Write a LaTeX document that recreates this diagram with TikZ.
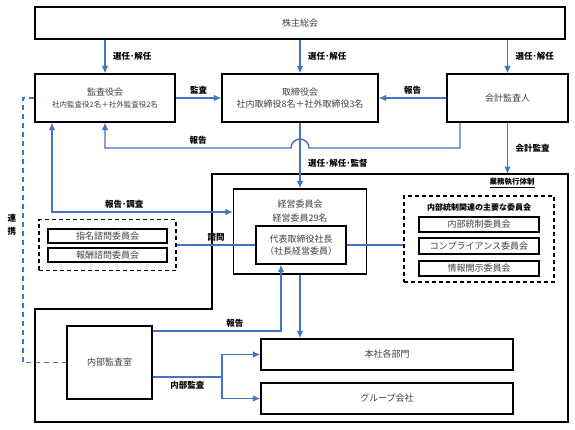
\documentclass[tikz,border=0pt]{standalone}
\usepackage{fontspec}
\setmainfont{Noto Sans CJK JP}
\usetikzlibrary{arrows.meta}
\definecolor{linkblue}{RGB}{68,114,196}
\definecolor{boxtext}{RGB}{64,64,64}

\begin{document}
\begin{tikzpicture}[x=1pt,y=-1pt,>={Latex[length=7.5pt,width=6.5pt]},
  org box/.style={draw,line width=1.2pt,inner sep=0pt,align=center,text=boxtext,font=\fontsize{9}{12}\selectfont},
  group box/.style={draw,line width=1.2pt,dash pattern=on 4pt off 3pt},
  blue line/.style={draw=linkblue,line width=1.4pt},
  tag/.style={font=\fontsize{8.5}{10}\selectfont\bfseries}]

  \useasboundingbox[fill=white] (0,0) rectangle (575,429);

  % governance level
  \node[org box,minimum width=530,minimum height=32] (gm) at (300,23) {株主総会};
  \node[org box,minimum width=140,minimum height=48] (kansa) at (105,98)
    {監査役会\\{\fontsize{7.5}{9}\selectfont 社内監査役2名＋社外監査役2名}};
  \node[org box,minimum width=156,minimum height=48] (board) at (300,98)
    {取締役会\\社内取締役8名＋社外取締役3名};
  \node[org box,minimum width=121,minimum height=48] (auditor) at (507.5,98) {会計監査人};

  % execution area
  \coordinate (ex nw) at (212,174);
  \coordinate (hop) at (300,148);
  \coordinate (link) at (23,0);
  \coordinate (split) at (222,377);
  \draw[line width=2pt] (ex nw) -- (568,174) -- (568,422) -- (35,422) -- (35,309) -- (212,309) -- cycle;
  \node[font=\fontsize{7.5}{9}\selectfont\bfseries] (exec) at (512,183) {\underline{業務執行体制}};

  \node[org box,minimum width=133,minimum height=85] (keiei) at (300,231.5) {};
  \node[text=boxtext,align=center,font=\fontsize{9}{14}\selectfont] (keieit) at (300,211) {経営委員会\\経営委員29名};
  \node[org box,minimum width=90,minimum height=38] (ceo) at (301,245) {代表取締役社長\\（社長経営委員）};

  \node[group box,minimum width=137,minimum height=51] (advisory) at (107.5,245) {};
  \node[org box,minimum width=119,minimum height=14] (nom) at (107.5,236) {指名諮問委員会};
  \node[org box,minimum width=119,minimum height=14] (rem) at (107.5,255) {報酬諮問委員会};

  \node[group box,minimum width=150,minimum height=86] (ic) at (479,239) {};
  \node[font=\fontsize{8}{10}\selectfont\bfseries] (ict) at (479,207) {内部統制関連の主要な委員会};
  \node[org box,minimum width=120,minimum height=15] (ic1) at (479,224.5) {内部統制委員会};
  \node[org box,minimum width=120,minimum height=16] (ic2) at (479,246) {コンプライアンス委員会};
  \node[org box,minimum width=120,minimum height=15] (ic3) at (479,268.5) {情報開示委員会};

  \node[org box,minimum width=85,minimum height=73] (ia) at (109.5,362.5) {内部監査室};
  \node[org box,minimum width=252,minimum height=31] (hq) at (387,354.5) {本社各部門};
  \node[org box,minimum width=252,minimum height=31] (grp) at (387,398.5) {グループ会社};

  % connectors
  \draw[blue line,->] (gm.south -| kansa) -- node[tag,right,xshift=4] {選任･解任} (kansa);
  \draw[blue line,->] (gm.south -| board) -- node[tag,right,xshift=4] {選任･解任} (board);
  \draw[blue line,->] (gm.south -| auditor) -- node[tag,right,xshift=4] {選任･解任} (auditor);
  \draw[blue line,->] (kansa) -- node[tag,above] {監査} (board);
  \draw[blue line,->] (auditor) -- node[tag,above] {報告} (board);
  \draw[blue line,->] ([xshift=-47.5]auditor.south) |- ([xshift=9]hop) arc (0:-180:9)
    -- node[tag,above] {報告} (hop -| kansa) -- (kansa.south);
  \draw[blue line,->] (board) -- node[tag,right,pos=0.62,xshift=4] {選任･解任･監督} (keiei);
  \draw[blue line,->] (auditor.south) -- node[tag,right,xshift=4] {会計監査} (auditor.south |- ex nw);
  \draw[blue line,<->] ([xshift=-53]kansa.south) |- node[tag,above,pos=0.7] {報告･調査} ([yshift=19.5]keiei.west);
  \draw[blue line] (advisory.east) -- node[tag,above] {諮問} (ceo.west);
  \draw[blue line] (ceo.east) -- (ceo.east -| ic.west);
  \draw[blue line,->] ([yshift=31.5]ia.east) -| node[tag,above,pos=0.32] {報告} ([xshift=-20]ceo.south);
  \draw[blue line,->] (keiei.south) -- (keiei.south |- hq.north);
  \draw[blue line] ([yshift=-14.5]ia.east) -- node[tag,below] {内部監査} (split);
  \draw[blue line,->] (split) |- (hq.west);
  \draw[blue line,->] (split) |- (grp.west);
  \draw[blue line,dash pattern=on 5pt off 4pt] (kansa.west) -- (kansa.west -| link) |- (ia.west);
  \node[tag,align=center,font=\fontsize{8.5}{13}\selectfont\bfseries] (renkei) at (12,225) {連\\携};
\end{tikzpicture}
\end{document}
